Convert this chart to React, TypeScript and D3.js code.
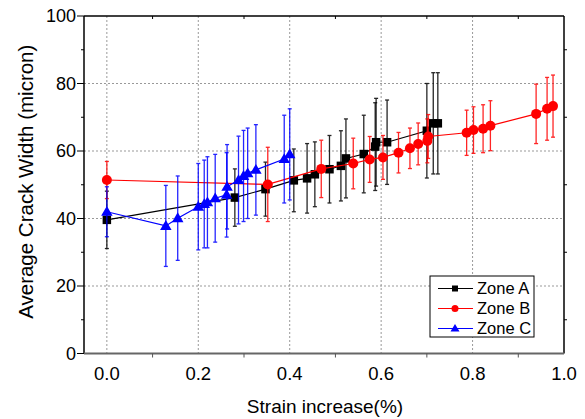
import React from "react";
import * as d3 from "d3";

const zoneAX = [0.0, 0.28, 0.347, 0.409, 0.438, 0.455, 0.487, 0.512, 0.523, 0.562, 0.587, 0.589, 0.613, 0.7, 0.714, 0.724];
const zoneAY = [39.6, 46.2, 48.7, 51.3, 51.9, 53.1, 54.6, 55.6, 57.8, 59.1, 61.3, 62.6, 62.6, 66.0, 68.2, 68.2];
const zoneAErr = [8.5, 8.5, 8, 9.3, 10.3, 9.6, 10, 10.4, 11.7, 11.5, 13, 13, 12.5, 14, 15, 15];

const zoneBX = [0.0, 0.352, 0.469, 0.539, 0.575, 0.604, 0.638, 0.663, 0.681, 0.701, 0.703, 0.787, 0.802, 0.823, 0.839, 0.939, 0.963, 0.976];
const zoneBY = [51.4, 50.1, 54.7, 56.3, 57.5, 58.1, 59.5, 60.8, 62.1, 63.0, 64.3, 65.4, 66.2, 66.6, 67.5, 71.0, 72.5, 73.3];
const zoneBErr = [5.5, 11, 8.5, 7.5, 6.8, 6.5, 6, 6, 6.2, 6.5, 6.5, 6.7, 6.9, 7.1, 7.4, 8.8, 9.3, 9.2];

const zoneCX = [0.0, 0.129, 0.155, 0.2, 0.213, 0.22, 0.237, 0.262, 0.263, 0.288, 0.299, 0.308, 0.326, 0.388, 0.4];
const zoneCY = [42.0, 37.8, 40.1, 43.5, 44.3, 44.8, 46.0, 47.0, 49.4, 51.4, 52.6, 53.4, 54.4, 57.6, 59.0];
const zoneCErr = [7.4, 12, 12.5, 12.8, 13, 13.5, 13, 12.5, 12.5, 13, 13.5, 13.4, 13.4, 13, 13.5];

const seriesNames = ["Zone A", "Zone B", "Zone C"];
const seriesColors = ["#000000", "#ff0000", "#0000ff"];
const xTicks = [0, 0.2, 0.4, 0.6, 0.8, 1.0];
const yTicks = [0, 20, 40, 60, 80, 100];

const W = 585;
const H = 419;
const left = 84, right = 564, top = 16, bottom = 353.5;
const FONT = "'Liberation Sans', Arial, sans-serif";

function Marker({ kind, x, y, color, s }: { kind: number; x: number; y: number; color: string; s: number }) {
  if (kind === 0) return <rect x={x - s / 2} y={y - s / 2} width={s} height={s} fill={color} />;
  if (kind === 1) return <circle cx={x} cy={y} r={s / 2} fill={color} />;
  const h = s * 0.9;
  return <path d={`M${x},${y - h * 0.62}L${x + s / 2 + 0.5},${y + h * 0.42}L${x - s / 2 - 0.5},${y + h * 0.42}Z`} fill={color} />;
}

export default function App() {
  const x = d3.scaleLinear().domain([-0.05, 1.0]).range([left, right]);
  const y = d3.scaleLinear().domain([0, 100]).range([bottom, top]);
  const series = [
    { xs: zoneAX, ys: zoneAY, es: zoneAErr },
    { xs: zoneBX, ys: zoneBY, es: zoneBErr },
    { xs: zoneCX, ys: zoneCY, es: zoneCErr },
  ];
  const line = d3.line<[number, number]>().x((d) => x(d[0])).y((d) => y(d[1]));
  const minorX = [0.1, 0.3, 0.5, 0.7, 0.9];
  const minorY = [10, 30, 50, 70, 90];
  const markerSize = [8.5, 10, 10.5];

  return (
    <svg width={W} height={H} style={{ position: "absolute", left: 0, top: 0, background: "#fff" }} fontFamily={FONT}>
      <rect x={0} y={0} width={W} height={H} fill="#fff" />
      {/* gridlines */}
      {xTicks.filter((v) => v < 1).map((v) => (
        <line key={"gx" + v} x1={x(v)} x2={x(v)} y1={top} y2={bottom} stroke="#999" strokeWidth={1} strokeDasharray="2,2" />
      ))}
      {yTicks.filter((v) => v > 0 && v < 100).map((v) => (
        <line key={"gy" + v} x1={left} x2={right} y1={y(v)} y2={y(v)} stroke="#999" strokeWidth={1} strokeDasharray="2,2" />
      ))}
      {/* series */}
      {series.map((s, si) => {
        const pts: [number, number][] = s.xs.map((v, i) => [v, s.ys[i]]);
        const c = seriesColors[si];
        return (
          <g key={si}>
            <path d={line(pts) || ""} fill="none" stroke={c} strokeWidth={1.2} />
            {s.xs.map((v, i) => (
              <g key={i} stroke={c} strokeWidth={1.3} opacity={0.85}>
                <line x1={x(v)} x2={x(v)} y1={y(s.ys[i] - s.es[i])} y2={y(s.ys[i] + s.es[i])} />
                <line x1={x(v) - 2} x2={x(v) + 2} y1={y(s.ys[i] - s.es[i])} y2={y(s.ys[i] - s.es[i])} />
                <line x1={x(v) - 2} x2={x(v) + 2} y1={y(s.ys[i] + s.es[i])} y2={y(s.ys[i] + s.es[i])} />
              </g>
            ))}
            {s.xs.map((v, i) => (
              <Marker key={"m" + i} kind={si} x={x(v)} y={y(s.ys[i])} color={c} s={markerSize[si]} />
            ))}
          </g>
        );
      })}
      {/* axes frame */}
      <line x1={left} x2={right} y1={top} y2={top} stroke="#000" strokeWidth={1.5} />
      <line x1={right} x2={right} y1={top} y2={bottom} stroke="#000" strokeWidth={1.5} />
      <line x1={left} x2={left} y1={top} y2={bottom} stroke="#000" strokeWidth={1.5} />
      <line x1={left} x2={right} y1={bottom} y2={bottom} stroke="#666" strokeWidth={2} />
      {/* ticks */}
      {yTicks.map((v) => (
        <line key={"ty" + v} x1={left - 7} x2={left} y1={y(v)} y2={y(v)} stroke="#000" strokeWidth={1} />
      ))}
      {minorY.map((v) => (
        <g key={"my" + v}>
          <line x1={left - 3} x2={left} y1={y(v)} y2={y(v)} stroke="#000" strokeWidth={1} />
          <line x1={right} x2={right + 3} y1={y(v)} y2={y(v)} stroke="#000" strokeWidth={1} />
        </g>
      ))}
      {minorX.map((v) => (
        <g key={"mx" + v}>
          <line x1={x(v)} x2={x(v)} y1={bottom} y2={bottom + 4} stroke="#555" strokeWidth={1} />
          <line x1={x(v)} x2={x(v)} y1={top} y2={top + 3} stroke="#000" strokeWidth={1} />
        </g>
      ))}
      {/* tick labels */}
      {yTicks.map((v) => (
        <text key={"ly" + v} x={left - 8} y={y(v)} dy="0.36em" textAnchor="end" fontSize={18} fill="#000">
          {v}
        </text>
      ))}
      {xTicks.map((v) => (
        <text key={"lx" + v} x={x(v)} y={380} textAnchor="middle" fontSize={18.5} fill="#000">
          {d3.format(".1f")(v)}
        </text>
      ))}
      <text x={(left + right) / 2 + 1} y={413} textAnchor="middle" fontSize={19} fill="#000">
        Strain increase(%)
      </text>
      <text transform={`translate(33,${(top + bottom) / 2 - 3}) rotate(-90)`} textAnchor="middle" fontSize={20.5} fill="#000">
        Average Crack Width (micron)
      </text>
      {/* legend */}
      <rect x={430} y={276} width={104} height={61} fill="#fff" stroke="#000" strokeWidth={1} />
      {seriesNames.map((n, i) => {
        const ly = 288.5 + i * 20;
        const c = seriesColors[i];
        return (
          <g key={n}>
            <line x1={438} x2={473} y1={ly} y2={ly} stroke={c} strokeWidth={1.2} />
            <Marker kind={i} x={455} y={ly} color={c} s={[6, 7, 8][i]} />
            <text x={477} y={ly} dy="0.36em" fontSize={16.5} fill="#000">
              {n}
            </text>
          </g>
        );
      })}
    </svg>
  );
}
